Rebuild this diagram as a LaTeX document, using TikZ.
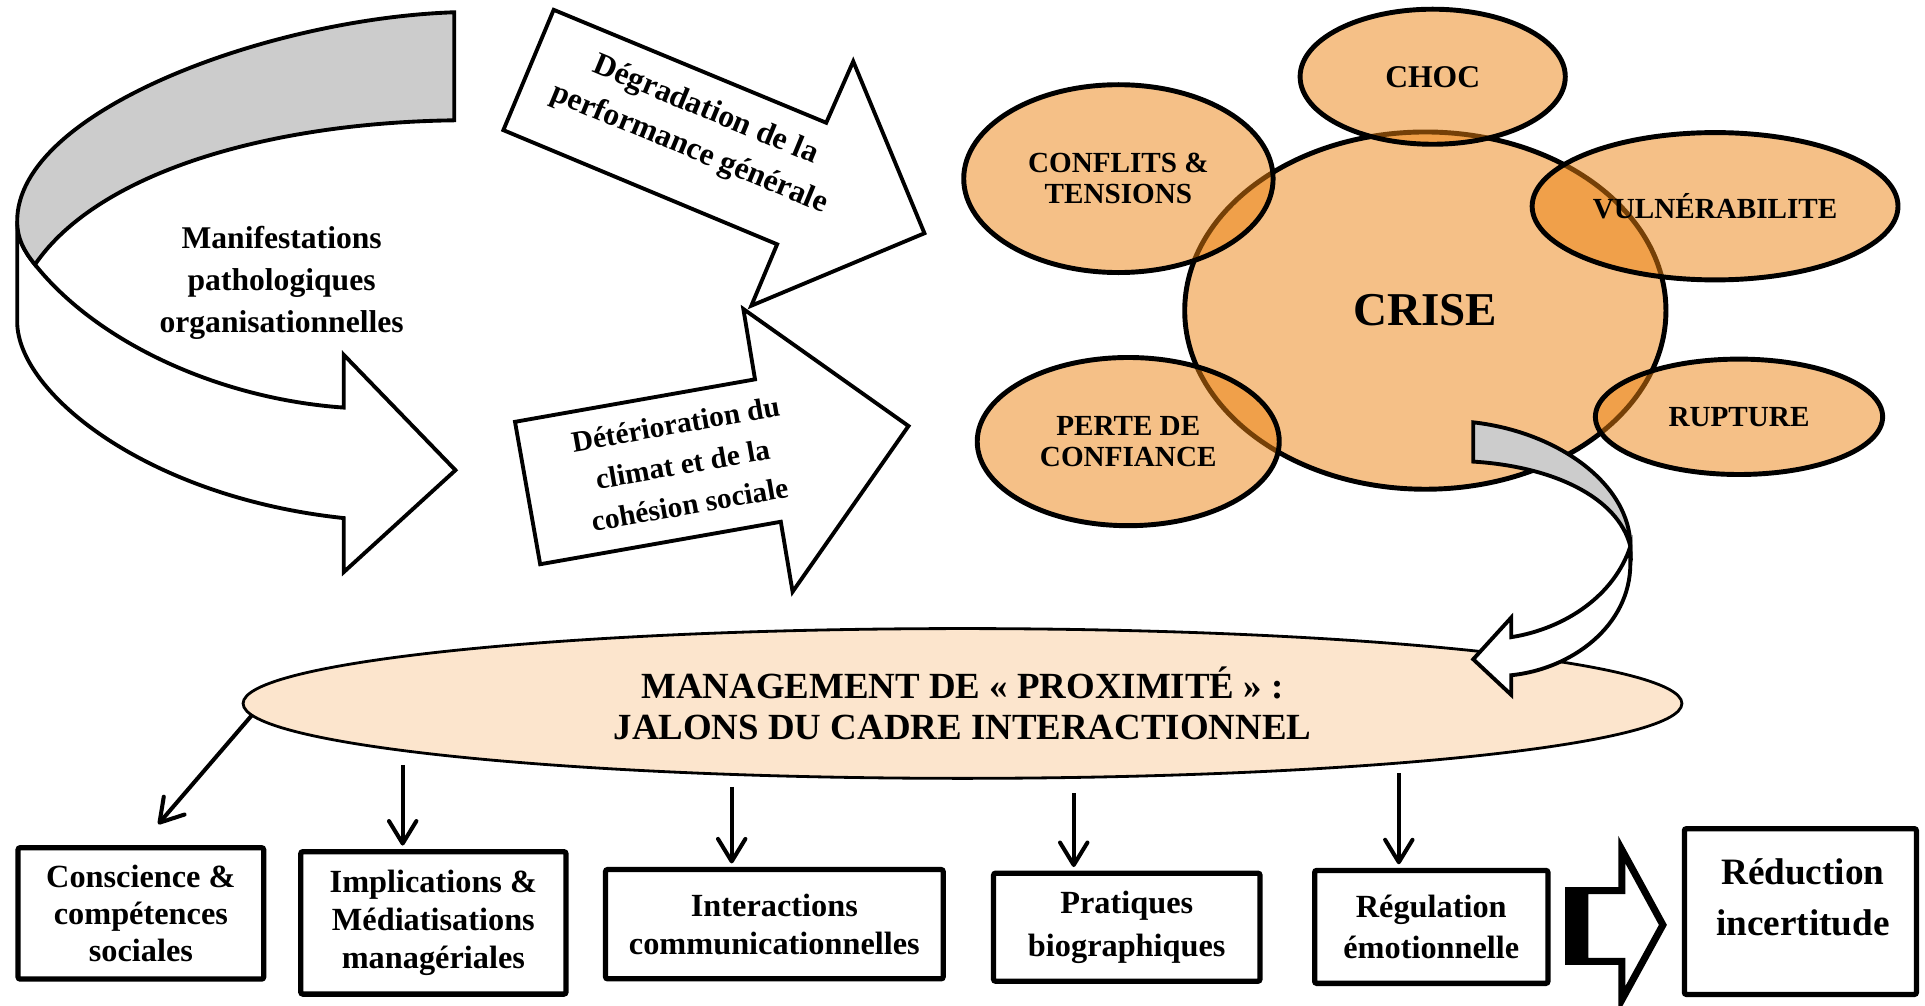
\documentclass[tikz,border=0pt]{standalone}
\usepackage{fontspec}
\setmainfont{Liberation Serif}
\usetikzlibrary{shapes.geometric,arrows.meta}
\definecolor{crisefill}{RGB}{235,129,15}
\definecolor{mgmtfill}{RGB}{252,229,205}
\definecolor{bandgray}{RGB}{204,204,204}
\newcommand{\pxu}{0.012277cm}
\newcommand{\setfs}[2]{\fontsize{#1}{#2}\selectfont\bfseries}

\begin{document}
\begin{tikzpicture}[x=0.012277cm, y=-0.012277cm,
  outline/.style={draw=black, line width=1.1pt, line join=miter},
  bubble/.style={ellipse, draw=black, line width=1.4pt, fill=crisefill,
    fill opacity=0.5, text opacity=1, inner sep=0pt, align=center},
  box/.style={draw=black, line width=1.5pt, fill=white, inner sep=0pt,
    align=center, rounded corners=0.6pt},
  conn/.style={draw=black, line width=1.15pt,
    -{Straight Barb[length=6.4pt,width=7.8pt,round]}, shorten >=1pt}
]
\useasboundingbox (0,0) rectangle (1568,819);

% --- curved ribbon arrow on the left ---
\filldraw[outline, fill=white] (14,180) -- (14,262)
  .. controls (14,320) and (120,405) .. (280,422) -- (280,466) -- (371,383)
  -- (280,289) -- (280,332)
  .. controls (180,325) and (80,280) .. (28.5,215.5)
  .. controls (20,205) and (14,195) .. (14,180) -- cycle;
\filldraw[outline, fill=bandgray] (370,10) -- (370,98)
  .. controls (220,100) and (80,140) .. (28.5,215.5)
  .. controls (20,205) and (14,195) .. (14,180)
  .. controls (14,90) and (220,15) .. (370,10) -- cycle;
\node[font={\setfs{9}{12}}, align=center] (manif) at (229.4,230.5)
  {Manifestations\\pathologiques\\organisationnelles};

% --- the two block arrows ---
\filldraw[outline, fill=white] (451,8) -- (673,100) -- (695,50) -- (753,190)
  -- (612,249) -- (633,199) -- (410,106) -- cycle;
\node[rotate=-22.5, font={\setfs{9}{12}}, align=center] (degr) at (568,106)
  {Dégradation de la\\performance générale};
\filldraw[outline, fill=white] (419.5,343.6) -- (615,309) -- (605.5,251.7)
  -- (740,347) -- (645.6,482) -- (636,425) -- (440,459.6) -- cycle;
\node[rotate=10, font={\setfs{8.4}{11.6}}, align=center] (deter) at (556,378)
  {Détérioration du\\climat et de la\\cohésion sociale};

% --- crisis cluster ---
\node[bubble, minimum width=392*\pxu, minimum height=291*\pxu,
  font={\setfs{13.4}{15}}] (crise) at (1161,253) {CRISE};
\node[bubble, minimum width=216*\pxu, minimum height=110*\pxu,
  font={\setfs{9}{10}}] (choc) at (1167,62.5) {CHOC};
\node[bubble, minimum width=252*\pxu, minimum height=153*\pxu,
  font={\setfs{8.3}{8.8}}] (conf) at (911,145.5) {CONFLITS \&\\TENSIONS};
\node[bubble, minimum width=298*\pxu, minimum height=120*\pxu,
  font={\setfs{8.3}{8.8}}] (vuln) at (1397,168) {VULNÉRABILITE};
\node[bubble, minimum width=234*\pxu, minimum height=94*\pxu,
  font={\setfs{8.3}{8.8}}] (rupt) at (1416.5,339.5) {RUPTURE};
\node[bubble, minimum width=246*\pxu, minimum height=137*\pxu,
  font={\setfs{8.3}{8.8}}] (perte) at (919,359.7) {PERTE DE\\CONFIANCE};

% --- central management ellipse ---
\node[ellipse, draw=black, line width=0.8pt, fill=mgmtfill, inner sep=0pt,
  minimum width=1172*\pxu, minimum height=122*\pxu, align=center,
  font={\setfs{10.5}{11.6}}] (mg) at (784,573)
  {MANAGEMENT DE « PROXIMITÉ » :\\JALONS DU CADRE INTERACTIONNEL};

% --- ribbon arrow from the crisis to the management ellipse ---
\filldraw[outline, fill=white] (1328,445) -- (1328,459)
  .. controls (1328,510) and (1280,545) .. (1231,550) -- (1231,566)
  -- (1200,537) -- (1231,503) -- (1231,519)
  .. controls (1275,512) and (1315,485) .. (1328,445) -- cycle;
\filldraw[outline, fill=bandgray] (1200,344)
  .. controls (1270,352) and (1328,395) .. (1328,445)
  .. controls (1318,405) and (1265,380) .. (1200,376) -- cycle;

% --- bottom boxes ---
\node[box, minimum width=200*\pxu, minimum height=107*\pxu,
  font={\setfs{9.2}{10.5}}] (b1) at (114.75,744) {Conscience \&\\compétences\\sociales};
\node[box, minimum width=216*\pxu, minimum height=116*\pxu,
  font={\setfs{9.2}{10.8}}] (b2) at (353,751.75) {Implications \&\\Médiatisations\\managériales};
\node[box, minimum width=275*\pxu, minimum height=89*\pxu,
  font={\setfs{9.2}{10.9}}] (b3) at (630.75,752.8) {Interactions\\communicationnelles};
\node[box, minimum width=217*\pxu, minimum height=88*\pxu,
  font={\setfs{9.2}{12.4}}] (b4) at (917.8,755.25) {Pratiques\\biographiques};
\node[box, minimum width=190*\pxu, minimum height=92*\pxu,
  font={\setfs{9.2}{11.9}}] (b5) at (1165.85,755) {Régulation\\émotionnelle};
\node[box, minimum width=189*\pxu, minimum height=135*\pxu] (b6) at (1466.5,742.5) {};
\node[font={\setfs{10.6}{14.7}}, align=center] (b6text) at (1468.5,731)
  {Réduction\\incertitude};

% --- arrows from the ellipse to the boxes ---
\coordinate (s1) at (mg.181.6);
\coordinate (t1) at (127,673.5);
\coordinate (s2) at (328,623);
\coordinate (s3) at (596,641);
\coordinate (s4) at (874.6,646);
\coordinate (s5) at (1139.4,630);
\draw[conn] (s1) -- (t1);
\draw[conn] (s2) -- (s2 |- b2.north);
\draw[conn] (s3) -- (s3 |- b3.north);
\draw[conn] (s4) -- (s4 |- b4.north);
\draw[conn] (s5) -- (s5 |- b5.north);

% --- striped block arrow towards the result ---
\fill[black] (1275,722.5) rectangle (1293.5,786);
\draw[draw=black, line width=2pt, line join=miter, fill=white]
  (1291,725.5) -- (1321,725.5) -- (1321,692) -- (1354.5,753.4)
  -- (1321,814.5) -- (1321,783) -- (1291,783) -- cycle;
\end{tikzpicture}
\end{document}
